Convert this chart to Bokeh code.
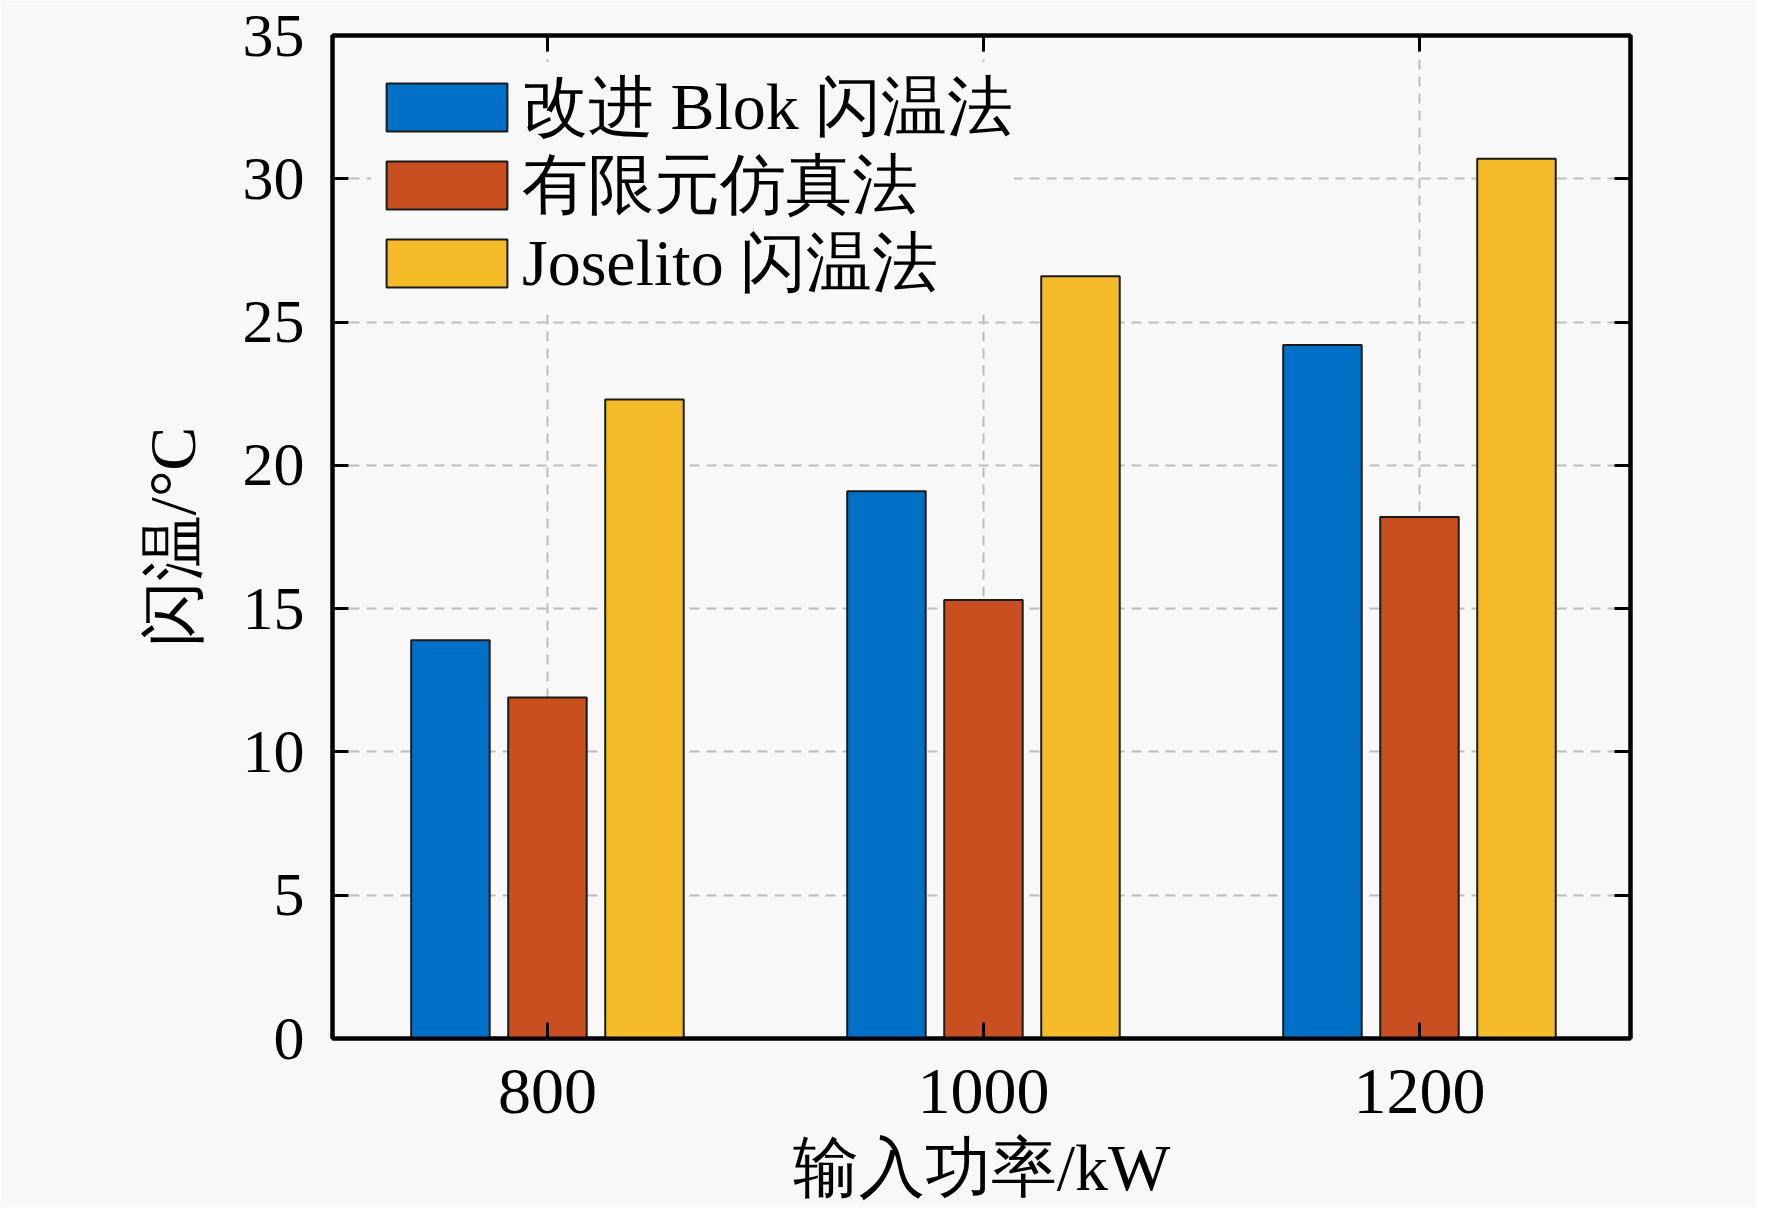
from bokeh.plotting import figure
from bokeh.models import (ColumnDataSource, Range1d, LinearAxis, FixedTicker,
                          Legend, LegendItem)
from bokeh.transform import dodge
from bokeh.embed import file_html
from bokeh.resources import INLINE

# ---- data ----
powers = [800, 1000, 1200]
power_labels = ["800", "1000", "1200"]
blok = [13.9, 19.1, 24.2]
fem = [11.9, 15.3, 18.2]
joselito = [22.3, 26.6, 30.7]
series_names = ["改进 Blok 闪温法", "有限元仿真法", "Joselito 闪温法"]
colors = ["#0070C6", "#C94F21", "#F6BB29"]
y_ticks = [0, 5, 10, 15, 20, 25, 30, 35]
x_title = "输入功率/kW"
y_title = "闪温/°C"

FONT = "Liberation Serif"
FS = "66px"
BG = "#F8F8F8"

W, H = 1756, 1207
p = figure(x_range=Range1d(701.4, 1296.8), y_range=Range1d(0, 35),
           width=W, height=H, output_backend="svg", toolbar_location=None,
           min_border_left=332, min_border_right=126, min_border_top=35,
           min_border_bottom=169, background_fill_color=BG,
           border_fill_color=BG, outline_line_color="black",
           outline_line_width=4)

src = ColumnDataSource(dict(x=powers, blok=blok, fem=fem, jos=joselito))
offsets = [-44.5, 0.0, 44.5]
cols = ["blok", "fem", "jos"]
renderers = []
for off, col, c in zip(offsets, cols, colors):
    r = p.vbar(x=dodge("x", off), top=col, width=36, source=src,
               fill_color=c, line_color="#1a1a1a", line_width=2)
    renderers.append(r)

# grids
for g in (p.xgrid, p.ygrid):
    g.grid_line_color = "#BDBDBD"
    g.grid_line_width = 2
    g.grid_line_dash = "10 7"
p.ygrid.ticker = FixedTicker(ticks=y_ticks)
p.xgrid.ticker = FixedTicker(ticks=powers)

# main axes
p.yaxis.ticker = FixedTicker(ticks=y_ticks)
p.xaxis.ticker = FixedTicker(ticks=powers)
p.xaxis.major_label_overrides = dict(zip(powers, power_labels))
for ax in (p.xaxis[0], p.yaxis[0]):
    ax.axis_line_width = 4
    ax.major_tick_line_width = 3
    ax.major_tick_in = 16
    ax.major_tick_out = 0
    ax.minor_tick_line_color = None
    ax.major_label_text_font = FONT
    ax.major_label_text_font_size = FS
    ax.major_label_text_color = "black"
    ax.axis_label_text_font = FONT
    ax.axis_label_text_font_size = FS
    ax.axis_label_text_font_style = "normal"
    ax.axis_label_text_color = "black"
p.yaxis.major_label_text_font_size = "62px"
p.xaxis.axis_label = x_title
p.yaxis.axis_label = y_title
p.yaxis.major_label_standoff = 28
p.yaxis.axis_label_standoff = 31
p.xaxis.major_label_standoff = 31
p.xaxis.axis_label_standoff = 15

# mirror axes (ticks only, no labels)
top = LinearAxis(ticker=FixedTicker(ticks=powers))
right = LinearAxis(ticker=FixedTicker(ticks=y_ticks))
for ax in (top, right):
    ax.axis_line_width = 4
    ax.major_tick_line_width = 3
    ax.major_tick_in = 16
    ax.major_tick_out = 0
    ax.minor_tick_line_color = None
    ax.major_label_standoff = 0
    ax.major_label_text_font_size = "10px"
    ax.major_label_text_color = None
p.add_layout(top, "above")
p.add_layout(right, "right")

# legend: one row per Legend so that the row pitch can follow the reference
row_y = [886, 808, 730]
legends = []
for name, r, yy in zip(series_names, renderers, row_y):
    lg = Legend(items=[LegendItem(label=name, renderers=[r])],
                location=(39, yy), margin=0, padding=12,
                glyph_width=151, glyph_height=60, label_standoff=0,
                label_width=492,
                label_text_font=FONT, label_text_font_size=FS,
                label_text_color="black", border_line_color=None,
                background_fill_color=BG, background_fill_alpha=1.0)
    legends.append(lg)
for lg in reversed(legends):
    p.add_layout(lg, "center")

open("out.html", "w").write(file_html(p, INLINE))
